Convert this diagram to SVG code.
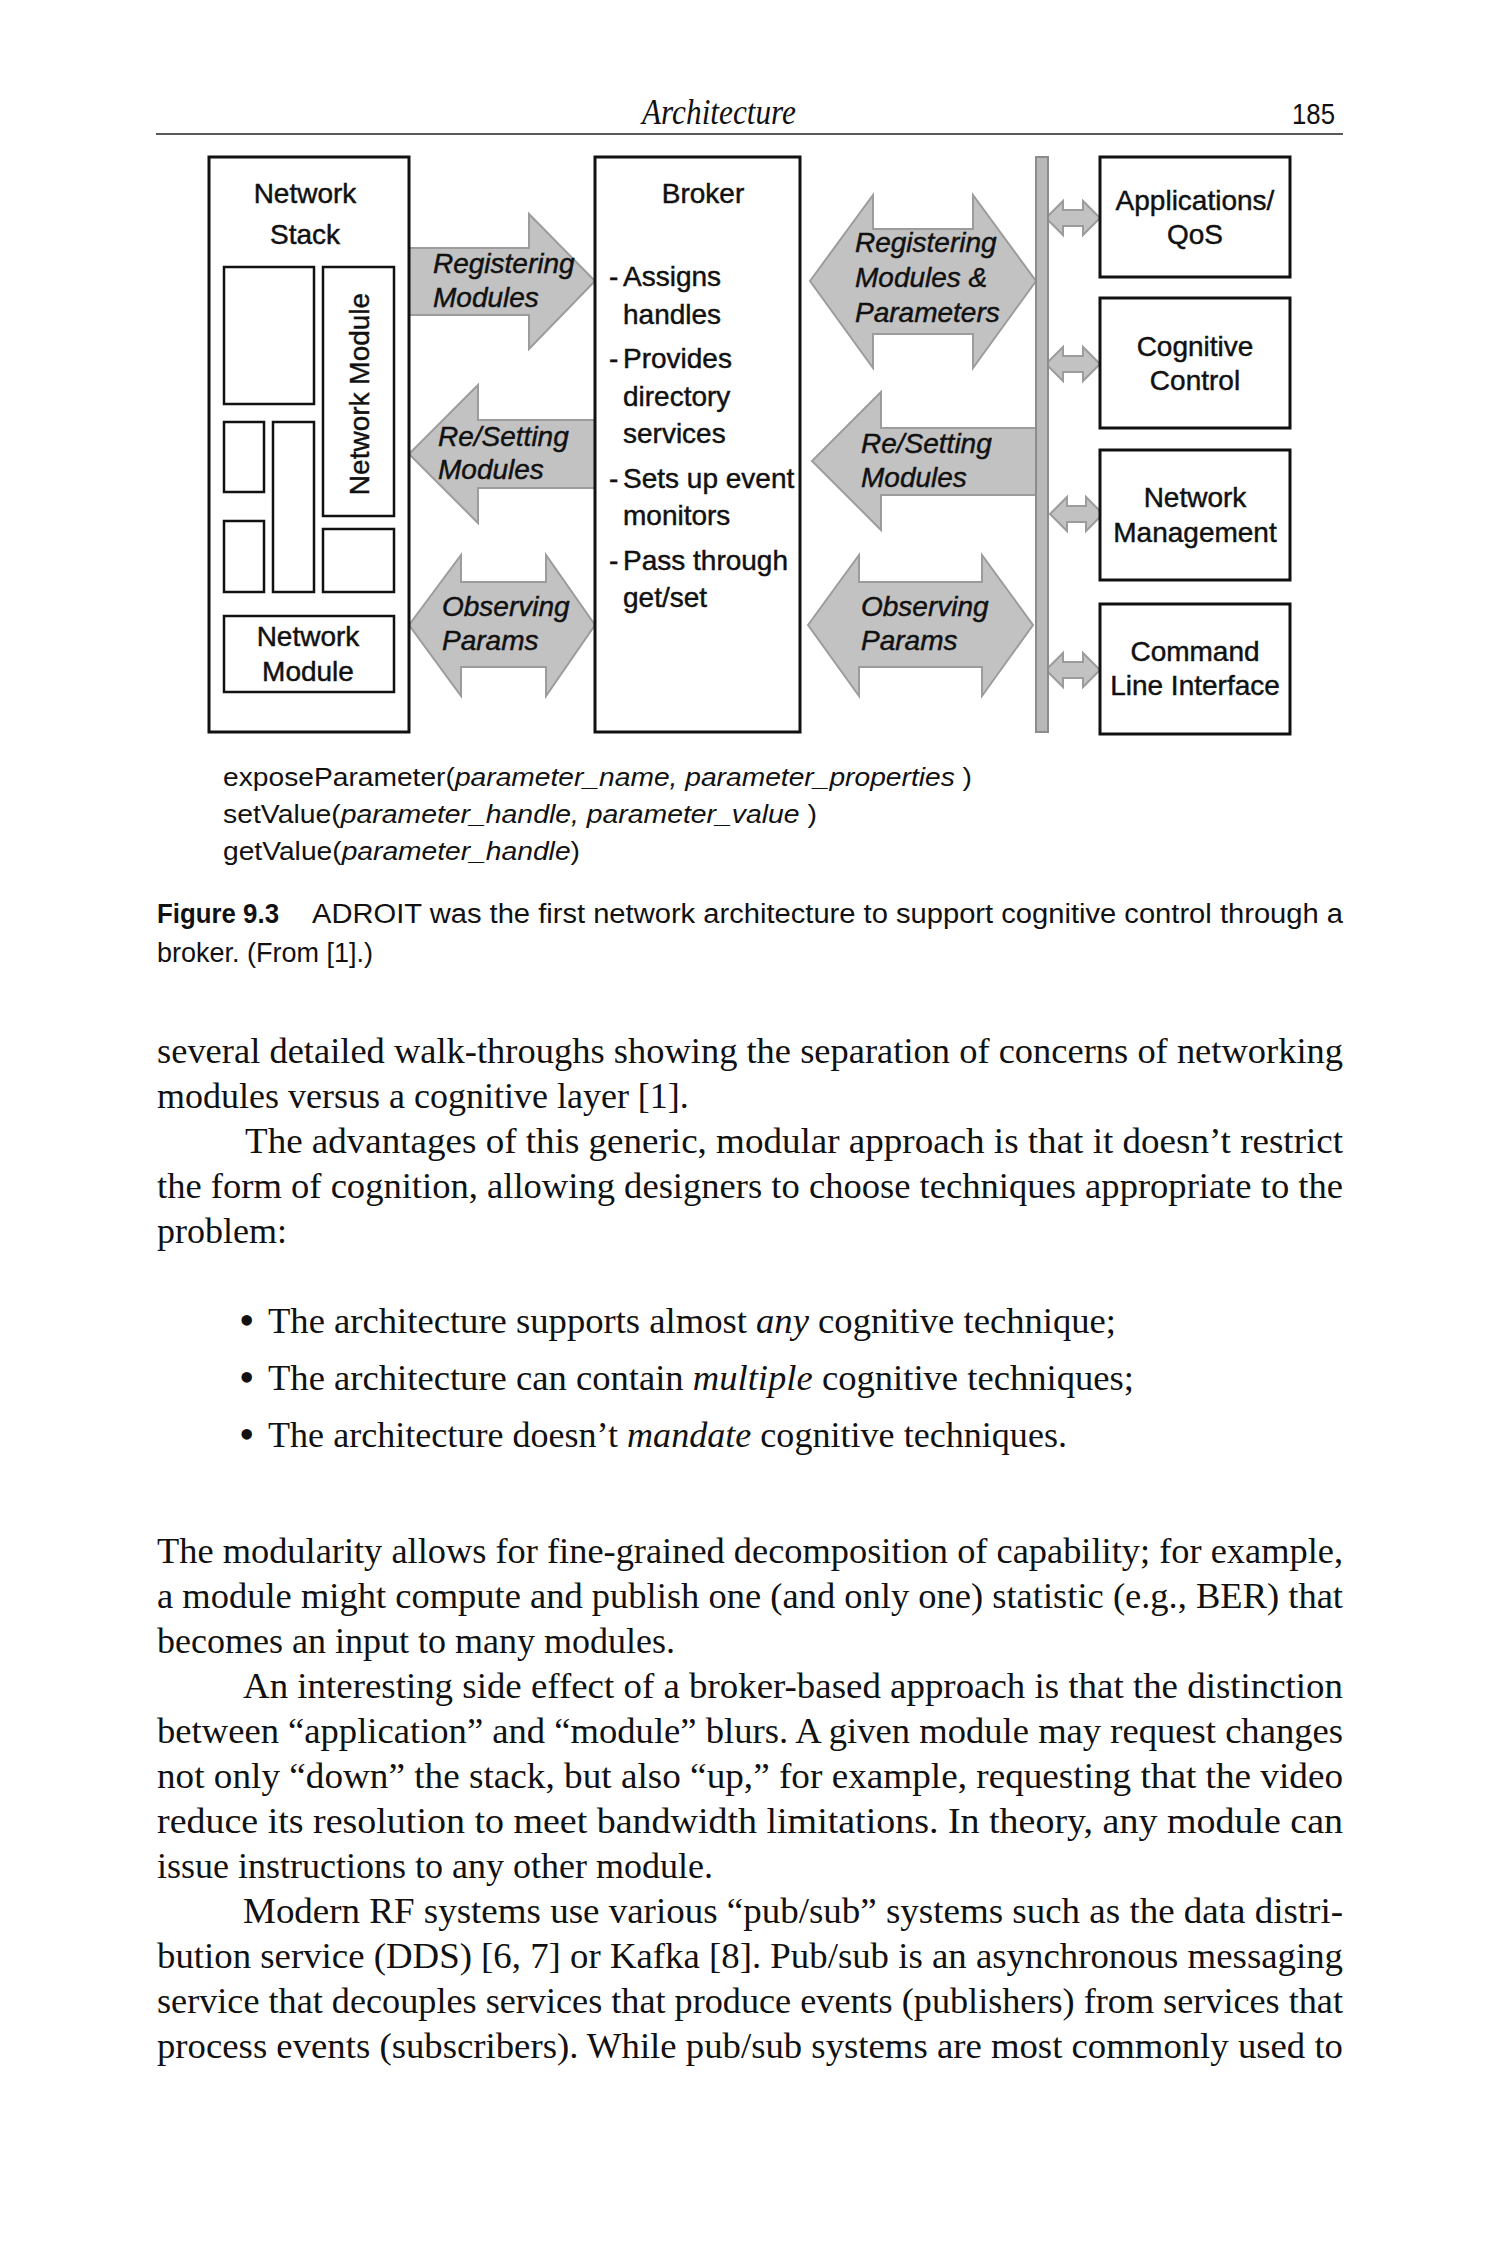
<svg xmlns="http://www.w3.org/2000/svg" width="1500" height="2250" viewBox="0 0 1500 2250">
<style>
.sans{font-family:"Liberation Sans",Arial,sans-serif;fill:#111}
.lbl{font-size:28px;stroke:#111;stroke-width:0.45}
.mid{text-anchor:middle}
.it{font-style:italic}
.box{fill:#fff;stroke:#111;stroke-width:3}
.ibox{fill:none;stroke:#111;stroke-width:2.5}
.arrow{fill:#c2c2c2;stroke:#9c9c9c;stroke-width:2}
.body{font-family:"Liberation Serif","Times New Roman",serif;font-size:36px;fill:#111}
.bul{font-size:44px}
</style>
<rect x="0" y="0" width="1500" height="2250" fill="#fff"/>

<g id="page-header">
  <text class="body it" x="642" y="124" font-size="29" textLength="154" lengthAdjust="spacingAndGlyphs">Architecture</text>
  <text class="sans" x="1292" y="124" font-size="29" textLength="43" lengthAdjust="spacingAndGlyphs">185</text>
  <line x1="156" y1="134" x2="1343" y2="134" stroke="#222" stroke-width="1.5"/>
</g>

<g id="connectors">
  <polygon class="arrow" points="409,248 529,248 529,214 595,281 529,349 529,315 409,315"/>
  <polygon class="arrow" points="595,420 478,420 478,385 409,454 478,523 478,488 595,488"/>
  <polygon class="arrow" points="409,625 461,555 461,582 546,582 546,555 595,625 546,696 546,667 461,667 461,696"/>
  <polygon class="arrow" points="810,281 873,195 873,229 973,229 973,195 1036,281 973,368 973,334 873,334 873,368"/>
  <polygon class="arrow" points="1036,428 881,428 881,392 812,461 881,530 881,495 1036,495"/>
  <polygon class="arrow" points="808,625 859,555 859,582 982,582 982,555 1033,625 982,696 982,667 859,667 859,696"/>
  <polygon class="arrow" points="1046,218 1063,201 1063,210 1083,210 1083,201 1100,218 1083,235 1083,226 1063,226 1063,235"/>
  <polygon class="arrow" points="1046,364 1063,347 1063,356 1083,356 1083,347 1100,364 1083,381 1083,372 1063,372 1063,381"/>
  <polygon class="arrow" points="1050,514 1067,497 1067,506 1086,506 1086,497 1103,514 1086,531 1086,522 1067,522 1067,531"/>
  <polygon class="arrow" points="1046,670 1063,653 1063,662 1083,662 1083,653 1100,670 1083,687 1083,678 1063,678 1063,687"/>
  <g class="sans lbl it">
    <text x="433" y="273">Registering</text>
    <text x="433" y="307">Modules</text>
    <text x="438" y="446">Re/Setting</text>
    <text x="438" y="479">Modules</text>
    <text x="442" y="616">Observing</text>
    <text x="442" y="650">Params</text>
    <text x="855" y="252">Registering</text>
    <text x="855" y="287">Modules &amp;</text>
    <text x="855" y="322">Parameters</text>
    <text x="861" y="453">Re/Setting</text>
    <text x="861" y="487">Modules</text>
    <text x="861" y="616">Observing</text>
    <text x="861" y="650">Params</text>
  </g>
</g>

<g id="network-stack">
  <rect class="box" x="209" y="157" width="200" height="575"/>
  <text class="sans lbl mid" x="305" y="203">Network</text>
  <text class="sans lbl mid" x="305" y="244">Stack</text>
  <rect class="ibox" x="224" y="267" width="90" height="137"/>
  <rect class="ibox" x="224" y="422" width="40" height="70"/>
  <rect class="ibox" x="273" y="422" width="41" height="170"/>
  <rect class="ibox" x="224" y="521" width="40" height="71"/>
  <rect class="ibox" x="323" y="529" width="71" height="63"/>
  <g id="network-module-vertical">
    <rect class="ibox" x="323" y="267" width="71" height="249"/>
    <text class="sans lbl mid" x="369" y="394" transform="rotate(-90 369 394)">Network Module</text>
  </g>
  <g id="network-module-bottom">
    <rect class="ibox" x="224" y="616" width="170" height="76"/>
    <text class="sans lbl mid" x="308" y="646">Network</text>
    <text class="sans lbl mid" x="308" y="681">Module</text>
  </g>
</g>

<g id="broker">
  <rect class="box" x="595" y="157" width="205" height="575"/>
  <text class="sans lbl mid" x="703" y="203">Broker</text>
  <g class="sans lbl">
    <text x="609" y="286">-</text><text x="623" y="286">Assigns</text>
    <text x="623" y="324">handles</text>
    <text x="609" y="368">-</text><text x="623" y="368">Provides</text>
    <text x="623" y="406">directory</text>
    <text x="623" y="443">services</text>
    <text x="609" y="488">-</text><text x="623" y="488">Sets up event</text>
    <text x="623" y="525">monitors</text>
    <text x="609" y="570">-</text><text x="623" y="570">Pass through</text>
    <text x="623" y="607">get/set</text>
  </g>
</g>

<g id="bus">
  <rect x="1036" y="157" width="12" height="575" fill="#b8b8b8" stroke="#8c8c8c" stroke-width="2"/>
</g>

<g id="applications-qos">
  <rect class="box" x="1100" y="157" width="190" height="120"/>
  <text class="sans lbl mid" x="1195" y="210">Applications/</text>
  <text class="sans lbl mid" x="1195" y="244">QoS</text>
</g>
<g id="cognitive-control">
  <rect class="box" x="1100" y="298" width="190" height="130"/>
  <text class="sans lbl mid" x="1195" y="356">Cognitive</text>
  <text class="sans lbl mid" x="1195" y="390">Control</text>
</g>
<g id="network-management">
  <rect class="box" x="1100" y="450" width="190" height="130"/>
  <text class="sans lbl mid" x="1195" y="507">Network</text>
  <text class="sans lbl mid" x="1195" y="542">Management</text>
</g>
<g id="command-line-interface">
  <rect class="box" x="1100" y="604" width="190" height="130"/>
  <text class="sans lbl mid" x="1195" y="661">Command</text>
  <text class="sans lbl mid" x="1195" y="695">Line Interface</text>
</g>

<g id="api-calls" class="sans" font-size="26">
  <text x="223" y="786" textLength="749" lengthAdjust="spacingAndGlyphs">exposeParameter(<tspan font-style="italic">parameter_name, parameter_properties</tspan> )</text>
  <text x="223" y="823" textLength="594" lengthAdjust="spacingAndGlyphs">setValue(<tspan font-style="italic">parameter_handle, parameter_value</tspan> )</text>
  <text x="223" y="860" textLength="357" lengthAdjust="spacingAndGlyphs">getValue(<tspan font-style="italic">parameter_handle</tspan>)</text>
</g>

<g id="caption" class="sans" font-size="27">
  <text x="157" y="923" font-weight="bold" textLength="122" lengthAdjust="spacingAndGlyphs">Figure 9.3</text>
  <text x="312" y="923" textLength="1031" lengthAdjust="spacingAndGlyphs">ADROIT was the first network architecture to support cognitive control through a</text>
  <text x="157" y="962" textLength="216" lengthAdjust="spacingAndGlyphs">broker. (From [1].)</text>
</g>

<g id="body-text" class="body">
  <text x="157" y="1063" textLength="1186" lengthAdjust="spacingAndGlyphs">several detailed walk-throughs showing the separation of concerns of networking</text>
  <text x="157" y="1108">modules versus a cognitive layer [1].</text>
  <text x="245" y="1153" textLength="1098" lengthAdjust="spacingAndGlyphs">The advantages of this generic, modular approach is that it doesn’t restrict</text>
  <text x="157" y="1198" textLength="1186" lengthAdjust="spacingAndGlyphs">the form of cognition, allowing designers to choose techniques appropriate to the</text>
  <text x="157" y="1243">problem:</text>

  <text class="bul" x="239" y="1335">•</text>
  <text x="268" y="1333" textLength="848" lengthAdjust="spacingAndGlyphs">The architecture supports almost <tspan font-style="italic">any</tspan> cognitive technique;</text>
  <text class="bul" x="239" y="1392">•</text>
  <text x="268" y="1390" textLength="866" lengthAdjust="spacingAndGlyphs">The architecture can contain <tspan font-style="italic">multiple</tspan> cognitive techniques;</text>
  <text class="bul" x="239" y="1449">•</text>
  <text x="268" y="1447" textLength="799" lengthAdjust="spacingAndGlyphs">The architecture doesn’t <tspan font-style="italic">mandate</tspan> cognitive techniques.</text>

  <text x="157" y="1563" textLength="1186" lengthAdjust="spacingAndGlyphs">The modularity allows for fine-grained decomposition of capability; for example,</text>
  <text x="157" y="1608" textLength="1186" lengthAdjust="spacingAndGlyphs">a module might compute and publish one (and only one) statistic (e.g., BER) that</text>
  <text x="157" y="1653">becomes an input to many modules.</text>
  <text x="243" y="1698" textLength="1100" lengthAdjust="spacingAndGlyphs">An interesting side effect of a broker-based approach is that the distinction</text>
  <text x="157" y="1743" textLength="1186" lengthAdjust="spacingAndGlyphs">between “application” and “module” blurs. A given module may request changes</text>
  <text x="157" y="1788" textLength="1186" lengthAdjust="spacingAndGlyphs">not only “down” the stack, but also “up,” for example, requesting that the video</text>
  <text x="157" y="1833" textLength="1186" lengthAdjust="spacingAndGlyphs">reduce its resolution to meet bandwidth limitations. In theory, any module can</text>
  <text x="157" y="1878">issue instructions to any other module.</text>
  <text x="243" y="1923" textLength="1100" lengthAdjust="spacingAndGlyphs">Modern RF systems use various “pub/sub” systems such as the data distri-</text>
  <text x="157" y="1968" textLength="1186" lengthAdjust="spacingAndGlyphs">bution service (DDS) [6, 7] or Kafka [8]. Pub/sub is an asynchronous messaging</text>
  <text x="157" y="2013" textLength="1186" lengthAdjust="spacingAndGlyphs">service that decouples services that produce events (publishers) from services that</text>
  <text x="157" y="2058" textLength="1186" lengthAdjust="spacingAndGlyphs">process events (subscribers). While pub/sub systems are most commonly used to</text>
</g>
</svg>
